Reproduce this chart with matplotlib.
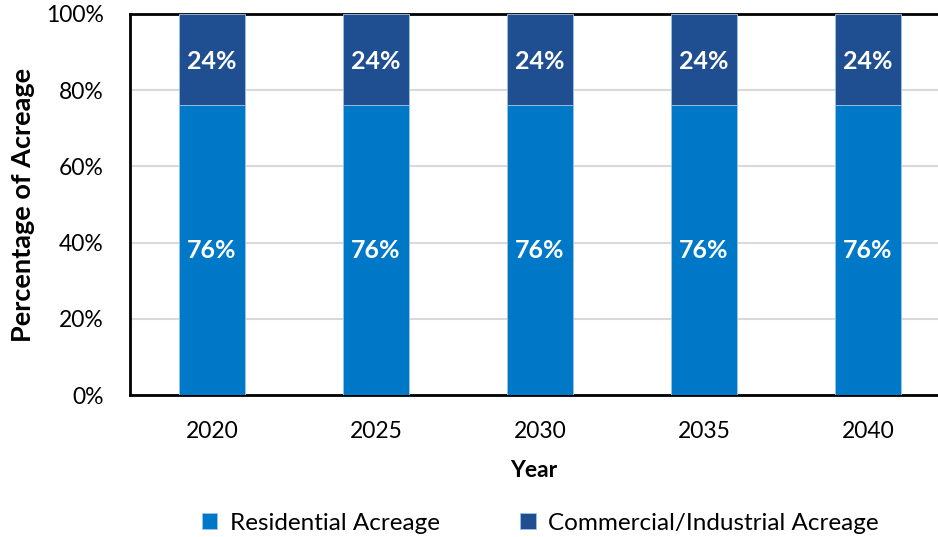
import matplotlib
matplotlib.use("Agg")
import matplotlib.pyplot as plt
import numpy as np

years = ["2020", "2025", "2030", "2035", "2040"]
residential = [76, 76, 76, 76, 76]
commercial = [24, 24, 24, 24, 24]
yticks = [0, 20, 40, 60, 80, 100]
ytick_labels = ["0%", "20%", "40%", "60%", "80%", "100%"]

plt.rcParams['font.family'] = ['Lato', 'DejaVu Sans']

fig = plt.figure(figsize=(9.38, 5.37), dpi=100)
ax = fig.add_axes([130/938, (537-395)/537, 808/938, 381/537])

x = np.arange(len(years))
c_res = '#0078C8'
c_com = '#1F4E91'
b1 = ax.bar(x, residential, width=0.4, color=c_res, edgecolor='#9EC3E6', linewidth=0.6, zorder=3)
b2 = ax.bar(x, commercial, width=0.4, bottom=residential, color=c_com, edgecolor='#9EC3E6', linewidth=0.6, zorder=3)

for xi, r, c in zip(x, residential, commercial):
    ax.text(xi, r / 2, f"{r}%", ha='center', va='center', color='white', fontsize=18, fontweight='bold', zorder=4)
    ax.text(xi, r + c / 2 - 0.5, f"{c}%", ha='center', va='center', color='white', fontsize=18, fontweight='bold', zorder=4)

ax.set_xlim(-0.5, -0.5 + 808/164)
ax.set_ylim(0, 100)
ax.set_yticks(yticks)
ax.set_yticklabels(ytick_labels)
ax.set_xticks(x)
ax.set_xticklabels(years)
ax.tick_params(axis='both', length=0, labelsize=16.5)
ax.tick_params(axis='y', pad=19)
ax.tick_params(axis='x', pad=19)
ax.grid(axis='y', color='#D9D9D9', linewidth=1.5, zorder=0)
ax.set_axisbelow(True)

for s in ['top', 'left', 'bottom']:
    ax.spines[s].set_linewidth(2)
    ax.spines[s].set_color('black')
ax.spines['right'].set_visible(False)

ax.set_ylabel("Percentage of Acreage", fontsize=19.5, fontweight='bold', labelpad=8)
ax.set_xlabel("Year", fontsize=16.5, fontweight='bold', labelpad=13)

leg = fig.legend([b1, b2], ["Residential Acreage", "Commercial/Industrial Acreage"],
                 loc='center', bbox_to_anchor=(540/938, 1 - 523/537), ncol=2, frameon=False,
                 fontsize=17.5, handlelength=0.65, handleheight=0.65, handletextpad=0.5, columnspacing=3.3)

fig.savefig("out.png", dpi=100)
